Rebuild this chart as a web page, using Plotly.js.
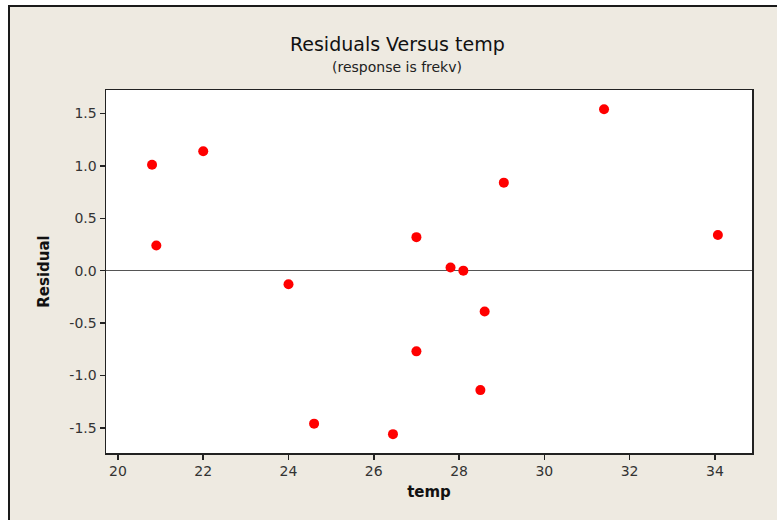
<!DOCTYPE html>
<html>
<head>
<meta charset="utf-8">
<script src="https://cdn.plot.ly/plotly-3.0.1.min.js"></script>
<style>
  html, body { margin: 0; padding: 0; background: #ffffff; width: 777px; height: 520px; overflow: hidden; }
  #wrap { position: absolute; left: 8px; top: 5px; border-left: 2px solid #1a1a1a; border-top: 2px solid #1a1a1a; }
  #plot { width: 767px; height: 513px; }
</style>
</head>
<body>
<div id="wrap"><div id="plot"></div></div>
<script>
// Data
var temp = [20.8, 20.9, 22.0, 24.0, 24.6, 26.45, 27.0, 27.0, 27.8, 28.1, 28.5, 28.6, 29.05, 31.4, 34.07];
var residual = [1.01, 0.24, 1.14, -0.13, -1.46, -1.56, -0.77, 0.32, 0.03, 0.0, -1.14, -0.39, 0.84, 1.54, 0.34];
var xTicks = [20, 22, 24, 26, 28, 30, 32, 34];
var yTicks = [-1.5, -1.0, -0.5, 0.0, 0.5, 1.0, 1.5];
var yTickText = ["-1.5", "-1.0", "-0.5", "0.0", "0.5", "1.0", "1.5"];

var FONT = "DejaVu Sans, Verdana, sans-serif";

var trace = {
  x: temp,
  y: residual,
  type: "scatter",
  mode: "markers",
  marker: { color: "#ff0000", size: 10, line: { width: 0 } },
  hoverinfo: "skip"
};

var layout = {
  width: 767,
  height: 513,
  paper_bgcolor: "#eeeae1",
  plot_bgcolor: "#ffffff",
  margin: { l: 96, r: 25, t: 83, b: 67, pad: 0 },
  showlegend: false,
  font: { family: FONT, color: "#333333", size: 14 },
  title: {
    text: "Residuals Versus temp",
    font: { family: FONT, size: 19, color: "#111111" },
    xref: "container", x: 0.505, xanchor: "center",
    yref: "container", y: 0.928, yanchor: "middle"
  },
  annotations: [{
    text: "(response is frekv)",
    xref: "paper", yref: "paper",
    x: 0.451, y: 1.0634, xanchor: "center", yanchor: "middle",
    showarrow: false,
    font: { family: FONT, size: 14, color: "#222222" }
  }],
  xaxis: {
    range: [19.72, 34.87],
    tickvals: xTicks,
    ticks: "outside", ticklen: 5, tickwidth: 1.5, tickcolor: "#222222",
    showline: true, mirror: true, linecolor: "#222222", linewidth: 1.5,
    showgrid: false, zeroline: false,
    tickfont: { family: FONT, size: 14, color: "#333333" },
    title: { text: "temp", standoff: 8, font: { family: FONT, size: 15, color: "#111111", weight: "bold" } }
  },
  yaxis: {
    range: [-1.74, 1.724],
    tickvals: yTicks,
    ticktext: yTickText,
    ticks: "outside", ticklen: 5, tickwidth: 1.5, tickcolor: "#222222",
    showline: true, mirror: true, linecolor: "#222222", linewidth: 1.5,
    showgrid: false,
    zeroline: true, zerolinecolor: "#555555", zerolinewidth: 1.2,
    tickfont: { family: FONT, size: 14, color: "#333333" },
    title: { text: "Residual", standoff: 16, font: { family: FONT, size: 15, color: "#111111", weight: "bold" } }
  }
};

Plotly.newPlot("plot", [trace], layout, { staticPlot: true, displayModeBar: false });
</script>
</body>
</html>
